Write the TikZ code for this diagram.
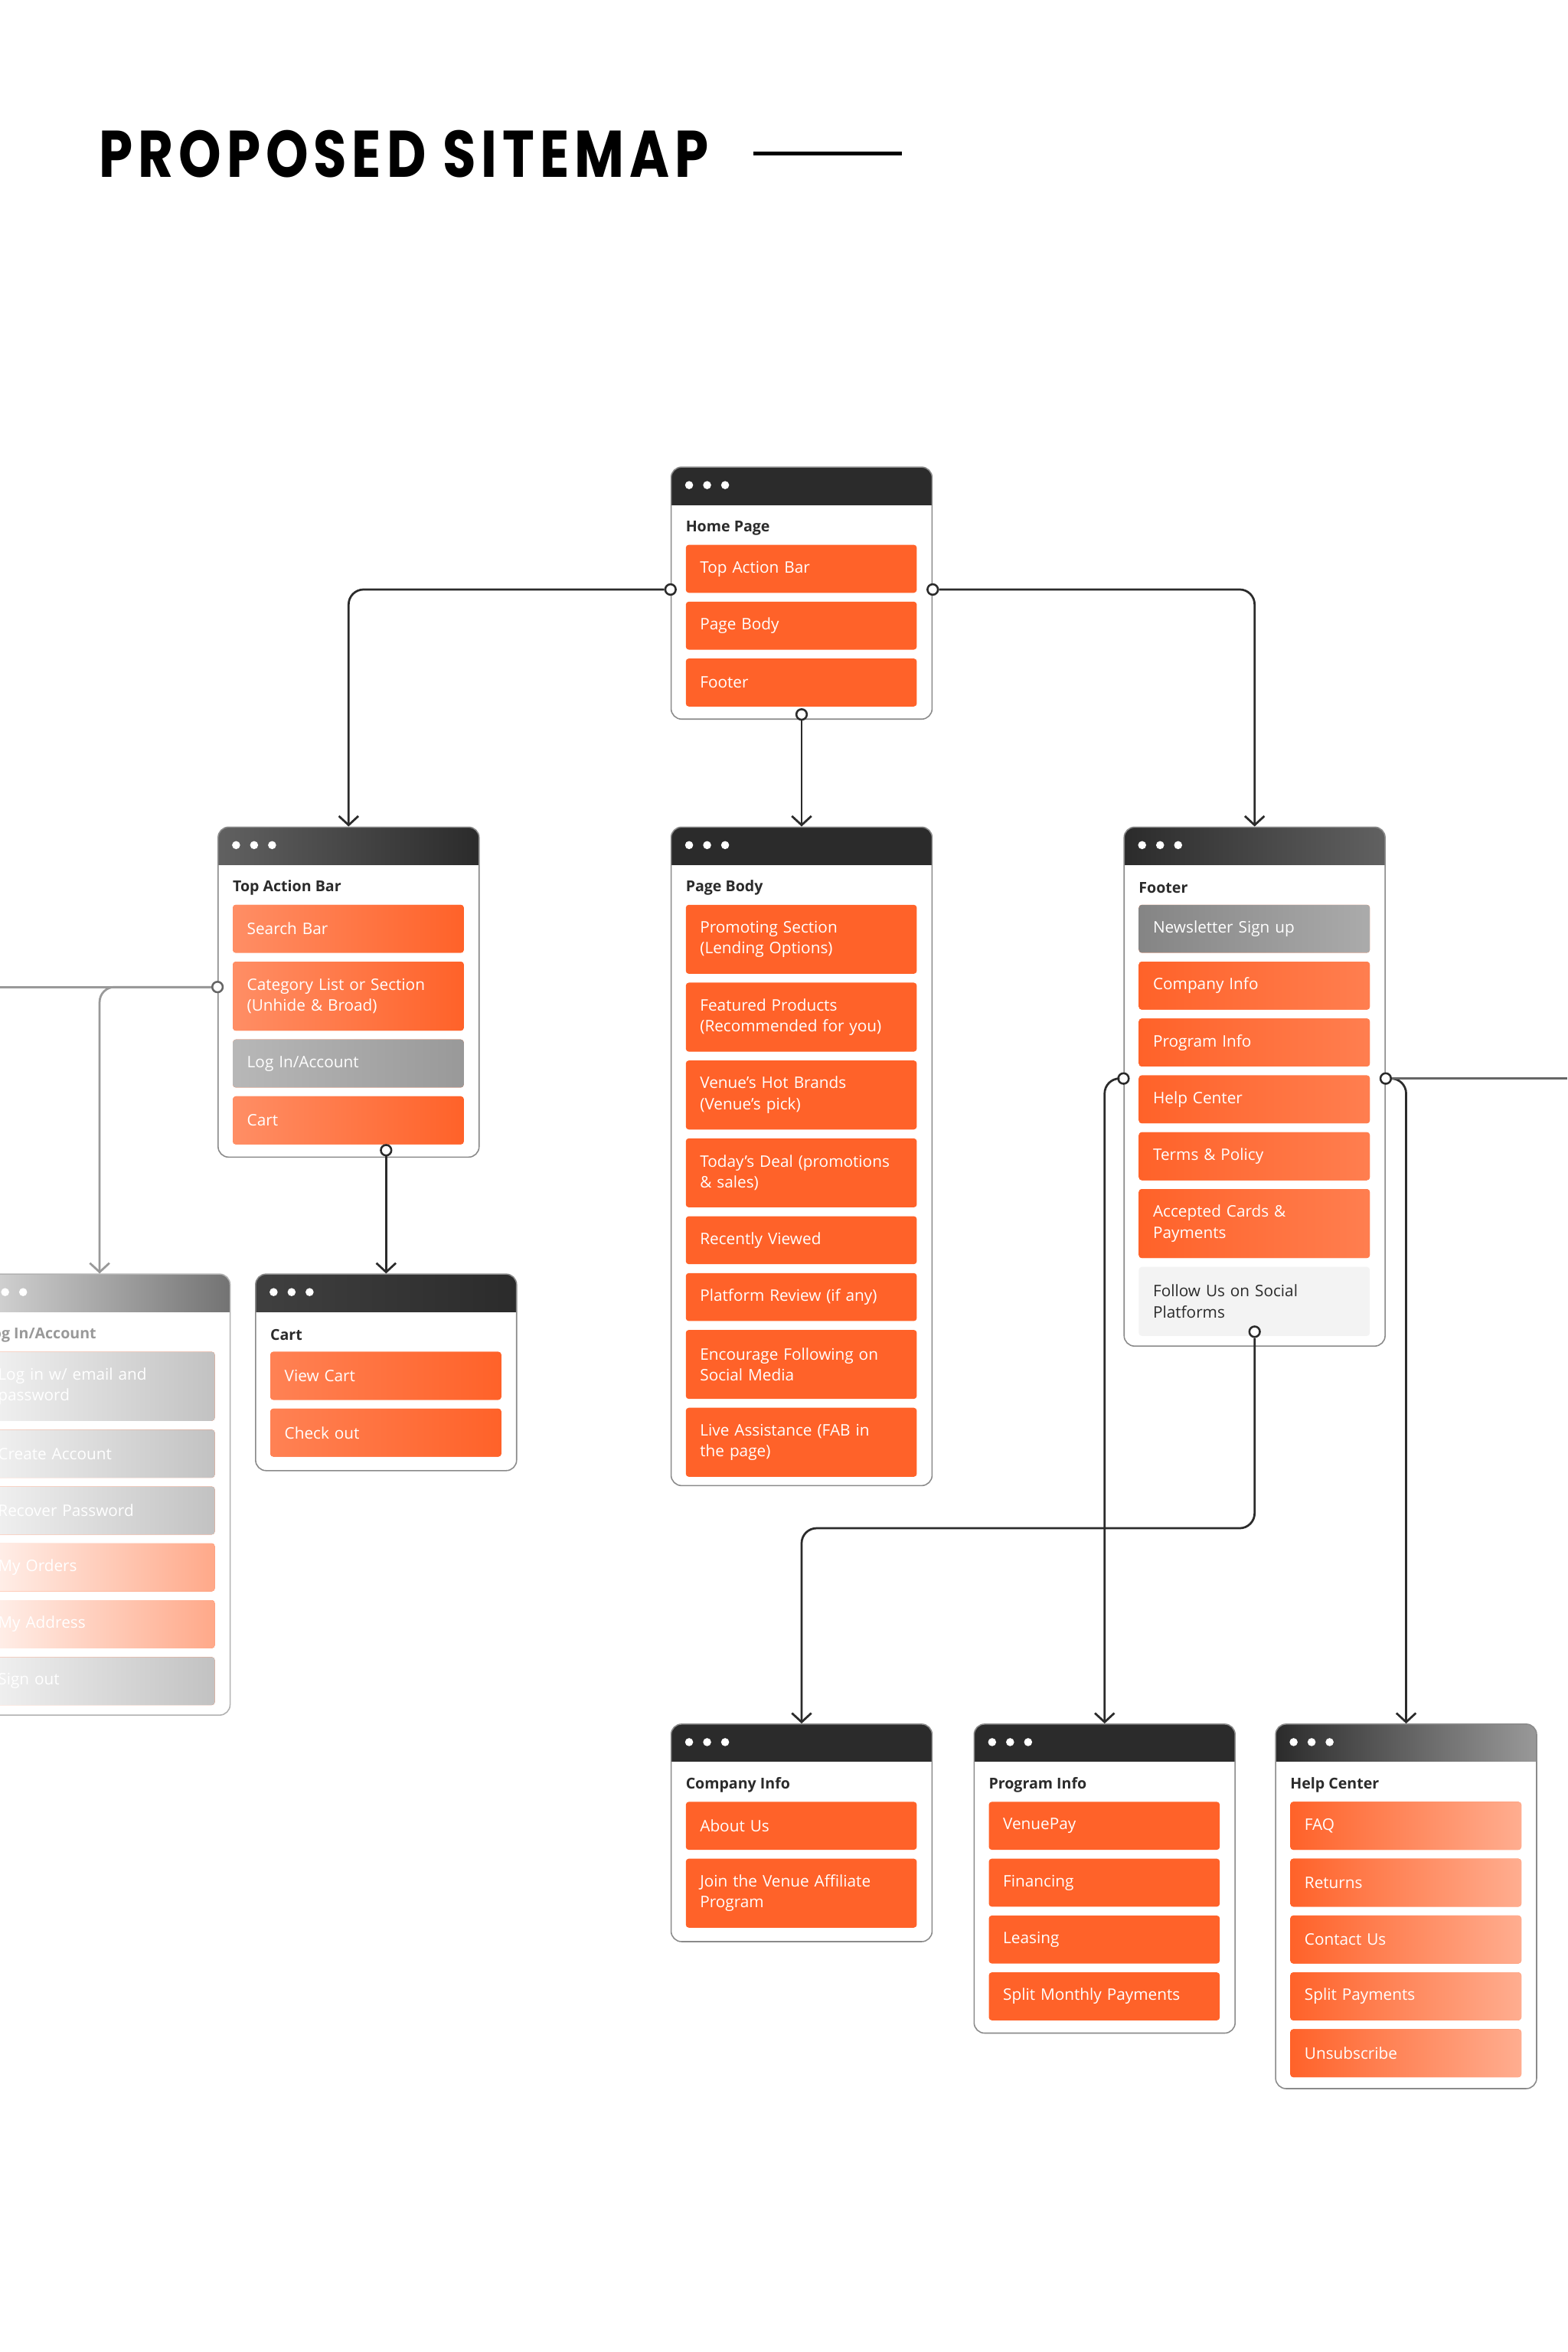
\documentclass[tikz,border=0pt]{standalone}
\usepackage{fontspec}
\setmainfont{Open Sans}
\newfontfamily\titlefont{Poppins}[FakeStretch=0.82,LetterSpace=8]
\usetikzlibrary{positioning,calc,arrows.meta}
\definecolor{vorange}{HTML}{FF6229}
\definecolor{vdark}{HTML}{2B2B2B}
\definecolor{vgrey}{HTML}{9C9C9C}
\definecolor{vline}{HTML}{8A8A8A}
\definecolor{vpale}{HTML}{F3F3F3}
\tikzset{win/.style 2 args={rectangle,draw=vline,line width=0.8pt,fill=white,rounded corners=7pt,
            minimum width=174pt,inner sep=0pt,anchor=north west,
            path picture={\shade[sharp corners,left color=#1,right color=#2] (path picture bounding box.north west) rectangle ([yshift=-25pt]path picture bounding box.north east);
              \foreach \k in {12,24,36} \fill[white] ([xshift=\k*1pt,yshift=-12pt]path picture bounding box.north west) circle (2.7pt);}},
         wtitle/.style={anchor=west,inner sep=0pt,font=\fontsize{10}{12}\bfseries,text=vdark},
         item/.style={rectangle,rounded corners=2pt,fill=vorange,text=white,text width=135pt,inner xsep=9.5pt,inner ysep=0pt,
            minimum height=32pt,align=left,font=\fontsize{10.6}{14}\selectfont},
         item2/.style={item,minimum height=46pt},
         joint/.style={circle,draw=vdark,fill=white,line width=1.3pt,inner sep=0pt,minimum size=7pt},
         link/.style={draw=vdark,line width=1.4pt,rounded corners=10pt,-{Straight Barb[length=6pt,width=13pt]}},
         faint/.style={draw=black!40,line width=1.4pt,rounded corners=10pt}
}

\begin{document}
\begin{tikzpicture}[x=1pt,y=-1pt]
\fill[white] (0,0) rectangle (1045,1568);
\useasboundingbox (0,0) rectangle (1045,1568);

% title
\node[anchor=base west,inner sep=0pt,font=\titlefont\fontsize{44}{44}\bfseries,text=black] (title) at (66,118) {PROPOSED SITEMAP};
\draw[line width=2.4pt] ([xshift=30pt]title.east) -- ++(99,0);

% home page
\node[win={vdark}{vdark},minimum height=168pt] (home) at (447,311) {};
\node[wtitle] (homeT) at ($(home.north west)+(10,41)$) {Home Page};
\node[item,below right=52pt and 10pt of home.north west] (homeA) {Top Action Bar};
\node[item,below=5.5pt of homeA] (homeB) {Page Body};
\node[item,below=5.5pt of homeB] (homeC) {Footer};

% top action bar
\node[win={black!62}{vdark},minimum height=220pt] (tab) at (145,551) {};
\node[wtitle] (tabT) at ($(tab.north west)+(10,41)$) {Top Action Bar};
\node[item,left color=vorange!72,right color=vorange,below right=52pt and 10pt of tab.north west] (tabA) {Search Bar};
\node[item2,left color=vorange!72,right color=vorange,below=5.5pt of tabA] (tabB) {Category List or Section\\(Unhide \& Broad)};
\node[item,left color=black!28,right color=black!40,below=5.5pt of tabB] (tabC) {Log In/Account};
\node[item,left color=vorange!72,right color=vorange,below=5.5pt of tabC] (tabD) {Cart};

% log in / account
\node[win={black!14}{black!55},draw=black!30,minimum height=294pt] (login) at (-21,849) {};
\node[wtitle,text=black!40] (loginT) at ($(login.north west)+(10,41)$) {Log In/Account};
\node[item2,left color=black!5,right color=black!24,below right=52pt and 10pt of login.north west] (loginA) {Log in w/ email and\\password};
\node[item,left color=black!5,right color=black!24,below=5.5pt of loginA] (loginB) {Create Account};
\node[item,left color=black!5,right color=black!24,below=5.5pt of loginB] (loginC) {Recover Password};
\node[item,left color=vorange!8,right color=vorange!55,below=5.5pt of loginC] (loginD) {My Orders};
\node[item,left color=vorange!8,right color=vorange!55,below=5.5pt of loginD] (loginE) {My Address};
\node[item,left color=black!5,right color=black!24,below=5.5pt of loginE] (loginF) {Sign out};

% cart
\node[win={black!75}{vdark},minimum height=131pt] (cart) at (170,849) {};
\node[wtitle] (cartT) at ($(cart.north west)+(10,41)$) {Cart};
\node[item,left color=vorange!80,right color=vorange,below right=52pt and 10pt of cart.north west] (cartA) {View Cart};
\node[item,left color=vorange!80,right color=vorange,below=5.5pt of cartA] (cartB) {Check out};

% page body
\node[win={vdark}{vdark},minimum height=439pt] (body) at (447,551) {};
\node[wtitle] (bodyT) at ($(body.north west)+(10,41)$) {Page Body};
\node[item2,below right=52pt and 10pt of body.north west] (bodyA) {Promoting Section\\(Lending Options)};
\node[item2,below=5.5pt of bodyA] (bodyB) {Featured Products\\(Recommended for you)};
\node[item2,below=5.5pt of bodyB] (bodyC) {Venue’s Hot Brands\\(Venue’s pick)};
\node[item2,below=5.5pt of bodyC] (bodyD) {Today’s Deal (promotions\\\& sales)};
\node[item,below=5.5pt of bodyD] (bodyE) {Recently Viewed};
\node[item,below=5.5pt of bodyE] (bodyF) {Platform Review (if any)};
\node[item2,below=5.5pt of bodyF] (bodyG) {Encourage Following on\\Social Media};
\node[item2,below=5.5pt of bodyG] (bodyH) {Live Assistance (FAB in\\the page)};

% footer
\node[win={vdark}{black!62},minimum height=346pt] (foot) at (749,551) {};
\node[wtitle] (footT) at ($(foot.north west)+(10,41)$) {Footer};
\node[item,left color=black!48,right color=black!33,below right=52pt and 10pt of foot.north west] (footA) {Newsletter Sign up};
\node[item,left color=vorange,right color=vorange!82,below=5.5pt of footA] (footB) {Company Info};
\node[item,left color=vorange,right color=vorange!82,below=5.5pt of footB] (footC) {Program Info};
\node[item,left color=vorange,right color=vorange!82,below=5.5pt of footC] (footD) {Help Center};
\node[item,left color=vorange,right color=vorange!82,below=5.5pt of footD] (footE) {Terms \& Policy};
\node[item2,left color=vorange,right color=vorange!82,below=5.5pt of footE] (footF) {Accepted Cards \&\\Payments};
\node[item2,fill=vpale,text=vdark,below=5.5pt of footF] (footG) {Follow Us on Social\\Platforms};

% company info
\node[win={vdark}{vdark},minimum height=145pt] (comp) at (447,1149) {};
\node[wtitle] (compT) at ($(comp.north west)+(10,41)$) {Company Info};
\node[item,below right=52pt and 10pt of comp.north west] (compA) {About Us};
\node[item2,below=5.5pt of compA] (compB) {Join the Venue Affiliate\\Program};

% program info
\node[win={vdark}{vdark},minimum height=206pt] (prog) at (649,1149) {};
\node[wtitle] (progT) at ($(prog.north west)+(10,41)$) {Program Info};
\node[item,below right=52pt and 10pt of prog.north west] (progA) {VenuePay};
\node[item,below=5.5pt of progA] (progB) {Financing};
\node[item,below=5.5pt of progB] (progC) {Leasing};
\node[item,below=5.5pt of progC] (progD) {Split Monthly Payments};

% help center
\node[win={vdark}{black!40},minimum height=243pt] (help) at (850,1149) {};
\node[wtitle] (helpT) at ($(help.north west)+(10,41)$) {Help Center};
\node[item,left color=vorange,right color=vorange!52,below right=52pt and 10pt of help.north west] (helpA) {FAQ};
\node[item,left color=vorange,right color=vorange!52,below=5.5pt of helpA] (helpB) {Returns};
\node[item,left color=vorange,right color=vorange!52,below=5.5pt of helpB] (helpC) {Contact Us};
\node[item,left color=vorange,right color=vorange!52,below=5.5pt of helpC] (helpD) {Split Payments};
\node[item,left color=vorange,right color=vorange!52,below=5.5pt of helpD] (helpE) {Unsubscribe};

% joints
\node[joint] (homeL) at ($(home.north west)+(0,82)$) {};
\node[joint] (homeR) at ($(home.north east)+(0,82)$) {};
\node[joint] (homeS) at ([yshift=3.5pt]home.south) {};
\node[joint,draw=black!60] (tabL) at ($(tab.north west)+(0,107)$) {};
\node[joint] (tabS) at ([yshift=5pt]tab.south -| cart.north) {};
\node[joint] (footL) at ($(foot.north west)+(0,168)$) {};
\node[joint] (footR) at ($(foot.north east)+(0,168)$) {};
\node[joint] (footS) at ([yshift=10pt]foot.south) {};
\coordinate (westEdge) at (0,658);
\coordinate (eastEdge) at (1045,719);

% links
\draw[link] (homeL) -| (tab.north);
\draw[link] (homeR) -| (foot.north);
\draw[link] (homeS) -- (body.north);
\draw[link] (tabS) -- (cart.north);
\draw[faint] (tabL) -- (westEdge);
\draw[faint,-{Straight Barb[length=6pt,width=13pt]}] (tabL) -| (login.north);
\draw[link] (footS) -- ++(0,131) -| (comp.north);
\draw[link] (footL) -| (prog.north);
\draw[link] (footR) -| (help.north);
\draw[faint,draw=black!60] (footR) -- (eastEdge);

\end{tikzpicture}
\end{document}
